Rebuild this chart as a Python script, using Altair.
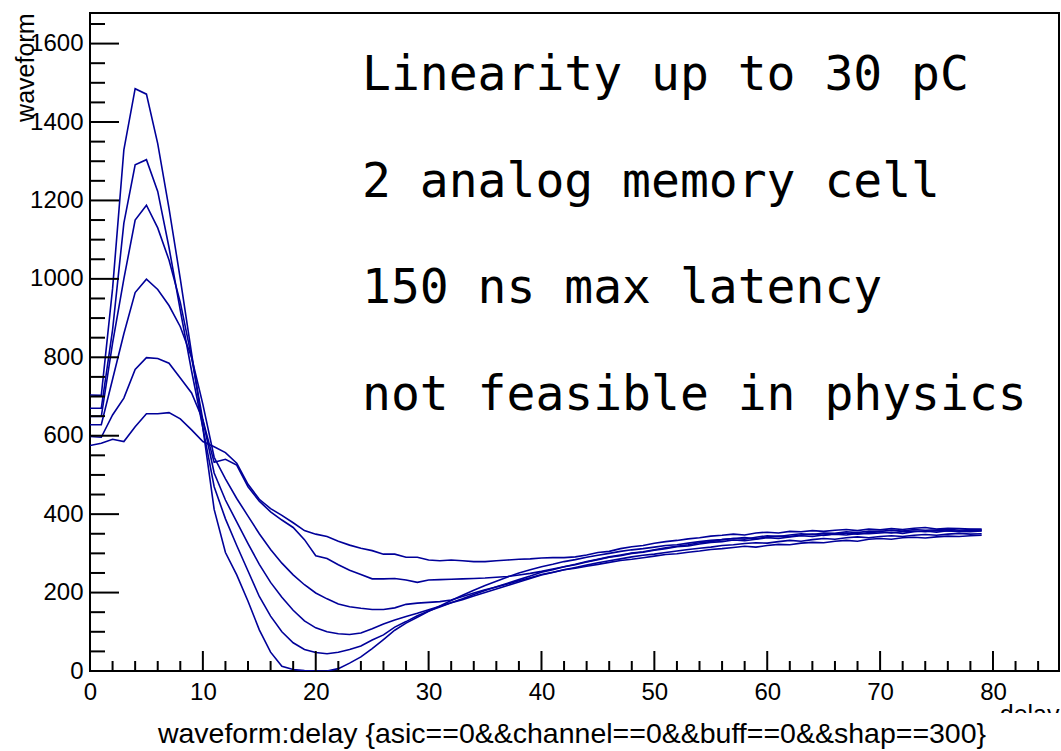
import altair as alt
import pandas as pd

# ---------------- data ----------------
delay = list(range(80))

curve_a = [704, 703, 975, 1329, 1485, 1471, 1345, 1180, 1000, 810,
           620, 412, 302, 245, 178, 105, 48, 12, 4, 1,
           0, 0, 6, 20, 36, 57, 80, 104, 122, 137,
           152, 166, 180, 193, 206, 218, 229, 240, 250, 258,
           266, 272, 279, 284, 290, 295, 300, 305, 309, 312,
           316, 320, 322, 326, 330, 333, 335, 338, 340, 337,
           342, 344, 343, 347, 349, 346, 350, 352, 349, 353,
           355, 352, 356, 357, 355, 358, 357, 356, 359, 358]

curve_b = [670, 670, 870, 1142, 1291, 1304, 1223, 1080, 920, 765,
           620, 470, 388, 320, 255, 190, 140, 100, 72, 55,
           47, 44, 48, 55, 64, 79, 92, 112, 126, 141,
           153, 163, 174, 184, 195, 205, 215, 224, 233, 242,
           252, 258, 266, 271, 278, 284, 290, 294, 300, 303,
           308, 312, 317, 319, 324, 328, 330, 334, 332, 336,
           340, 338, 342, 345, 343, 347, 349, 347, 351, 350,
           352, 354, 351, 355, 357, 354, 358, 356, 355, 357]

curve_c = [649, 649, 836, 1000, 1150, 1188, 1130, 1048, 940, 800,
           640, 505, 436, 380, 325, 272, 226, 188, 155, 128,
           110, 100, 95, 93, 97, 108, 120, 130, 139, 147,
           156, 165, 174, 182, 191, 200, 209, 218, 227, 236,
           245, 251, 258, 264, 270, 276, 281, 286, 291, 295,
           298, 302, 306, 310, 313, 316, 320, 322, 325, 327,
           326, 330, 333, 331, 335, 338, 336, 340, 342, 340,
           343, 345, 343, 346, 348, 346, 349, 351, 349, 350]

curve_d = [628, 628, 744, 860, 965, 999, 973, 932, 878, 800,
           680, 545, 490, 440, 395, 350, 310, 275, 245, 220,
           199, 184, 171, 164, 160, 157, 157, 161, 170, 173,
           175, 177, 181, 190, 199, 207, 214, 222, 230, 238,
           246, 252, 258, 262, 267, 272, 277, 282, 285, 289,
           293, 297, 299, 303, 306, 310, 312, 315, 318, 316,
           320, 323, 322, 326, 328, 327, 331, 333, 331, 336,
           338, 336, 340, 341, 339, 342, 344, 343, 345, 346]

curve_e = [598, 596, 653, 696, 769, 799, 797, 785, 747, 709,
           640, 532, 540, 525, 470, 433, 406, 385, 366, 335,
           294, 287, 271, 257, 246, 235, 235, 236, 232, 226,
           232, 233, 234, 235, 236, 237, 239, 241, 245, 249,
           254, 260, 266, 272, 279, 285, 291, 296, 301, 304,
           309, 314, 318, 322, 327, 330, 335, 338, 336, 341,
           345, 343, 347, 350, 348, 352, 351, 355, 353, 357,
           356, 359, 357, 361, 359, 360, 362, 359, 361, 360]

curve_f = [575, 581, 591, 585, 623, 656, 656, 659, 643, 615,
           585, 572, 557, 530, 476, 438, 414, 397, 378, 358,
           349, 343, 331, 321, 313, 307, 298, 298, 290, 290,
           283, 281, 283, 281, 279, 279, 281, 283, 285, 286,
           288, 289, 289, 291, 296, 302, 305, 312, 317, 320,
           326, 330, 333, 337, 340, 344, 346, 349, 347, 352,
           354, 352, 356, 355, 358, 356, 359, 361, 358, 362,
           360, 363, 361, 364, 366, 362, 364, 363, 362, 362]

curve_names = ["A", "B", "C", "D", "E", "F"]
curve_values = [curve_a, curve_b, curve_c, curve_d, curve_e, curve_f]

x_major = [0, 10, 20, 30, 40, 50, 60, 70, 80]
x_minor = [2, 4, 6, 8, 12, 14, 16, 18, 22, 24, 26, 28, 32, 34, 36, 38,
           42, 44, 46, 48, 52, 54, 56, 58, 62, 64, 66, 68, 72, 74, 76, 78,
           82, 84]
y_major = [0, 200, 400, 600, 800, 1000, 1200, 1400, 1600]
y_minor = [50, 100, 150, 250, 300, 350, 450, 500, 550, 650, 700, 750,
           850, 900, 950, 1050, 1100, 1150, 1250, 1300, 1350, 1450, 1500,
           1550, 1650]

annotations = ["Linearity up to 30 pC", "2 analog memory cell",
               "150 ns max latency", "not feasible in physics"]
title_text = "waveform:delay {asic==0&&channel==0&&buff==0&&shap==300}"

# ---------------- tables ----------------
rows = []
for name, vals in zip(curve_names, curve_values):
    for d, v in zip(delay, vals):
        rows.append({"delay": d, "waveform": v, "curve": name})
df = pd.DataFrame(rows)

W, H = 969, 658
FONT = "Liberation Sans"
MONO = "DejaVu Sans Mono"
LINE = "#000099"

x_scale = alt.Scale(domain=[0, 85.85], nice=False, zero=False)
y_scale = alt.Scale(domain=[0, 1678], nice=False, zero=False)

lines = alt.Chart(df).mark_line(color=LINE, strokeWidth=1.6, clip=True).encode(
    x=alt.X("delay:Q", scale=x_scale,
            axis=alt.Axis(values=x_major, format="d", title="delay",
                          ticks=False, domain=False, grid=False,
                          labelFont=FONT, labelFontSize=24, labelColor="black",
                          labelPadding=9, labelOverlap=False, labelFlush=False,
                          titleFont=FONT, titleFontSize=25, titleFontWeight="normal",
                          titleColor="black", titleAlign="right", titleAnchor="end",
                          titleX=W, titleY=51, titleBaseline="alphabetic")),
    y=alt.Y("waveform:Q", scale=y_scale,
            axis=alt.Axis(values=y_major, format="d", title="waveform",
                          ticks=False, domain=False, grid=False,
                          labelFont=FONT, labelFontSize=24, labelColor="black",
                          labelPadding=7, labelOverlap=False, labelFlush=False,
                          titleFont=FONT, titleFontSize=25, titleFontWeight="normal",
                          titleColor="black", titleAngle=270, titleAlign="right",
                          titleAnchor="end", titleX=-57, titleY=0,
                          titleBaseline="alphabetic")),
    detail="curve:N",
)


def yticks(vals, length):
    return alt.Chart(pd.DataFrame({"waveform": vals})).mark_rule(
        color="black", strokeWidth=2).encode(
        y=alt.Y("waveform:Q", scale=y_scale), x=alt.value(0), x2=alt.value(length))


def xticks(vals, length):
    return alt.Chart(pd.DataFrame({"delay": vals})).mark_rule(
        color="black", strokeWidth=2).encode(
        x=alt.X("delay:Q", scale=x_scale), y=alt.value(H), y2=alt.value(H - length))


# annotation text rows (ROOT latex placed in pad coordinates)
ann_layers = []
for i, t in enumerate(annotations):
    ann_layers.append(
        alt.Chart(pd.DataFrame({"label": [t]})).mark_text(
            font=MONO, fontSize=48, align="left", baseline="alphabetic",
            color="black").encode(
            x=alt.value(272), y=alt.value(77 + i * 106.7), text="label:N")
    )

# white title box (covers the lower part of the "delay" axis title, as in ROOT)
cover = alt.Chart(pd.DataFrame({"k": [0]})).mark_rect(color="white").encode(
    x=alt.value(-10), x2=alt.value(W + 2), y=alt.value(700), y2=alt.value(740))

title = alt.Chart(pd.DataFrame({"label": [title_text]})).mark_text(
    font=FONT, fontSize=28.5, align="center", baseline="alphabetic",
    color="black").encode(
    x=alt.value(482), y=alt.value(730), text="label:N")

chart = alt.layer(
    lines,
    yticks(y_major, 29), yticks(y_minor, 15),
    xticks(x_major, 20), xticks(x_minor, 10),
    *ann_layers,
    cover, title,
).properties(
    width=W, height=H,
    autosize=alt.AutoSizeParams(type="none"),
    padding={"left": 90, "top": 13, "right": 2, "bottom": 80},
    background="white",
).configure_view(stroke="black", strokeWidth=2)

chart.save("out.html", embed_options={"renderer": "svg", "actions": False})
